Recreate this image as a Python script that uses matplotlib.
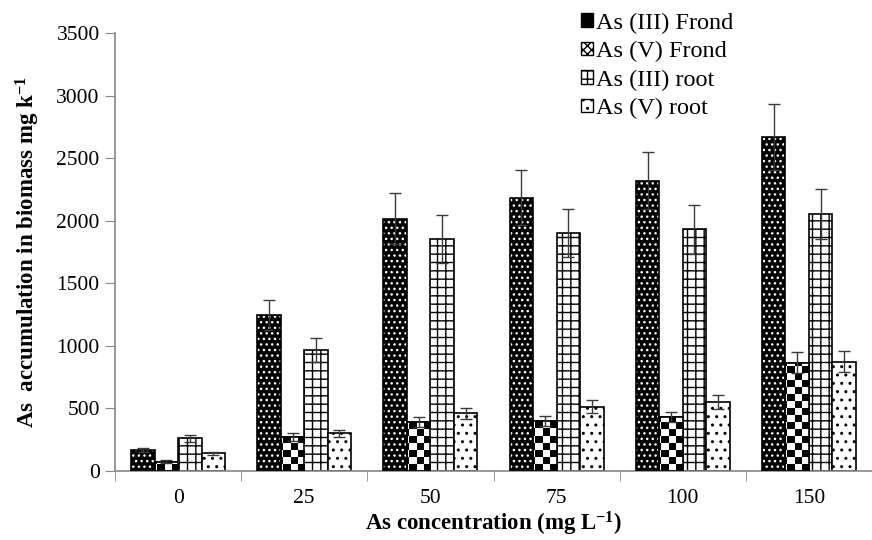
import numpy as np
import matplotlib
matplotlib.use('Agg')
import matplotlib.pyplot as plt
from matplotlib.patches import Patch

plt.rcParams['font.family'] = 'Liberation Serif'
plt.rcParams['mathtext.fontset'] = 'custom'
plt.rcParams['mathtext.rm'] = 'Liberation Serif'
plt.rcParams['mathtext.bf'] = 'Liberation Serif:bold'
plt.rcParams['hatch.linewidth'] = 1.0

concentrations = ['0', '25', '50', '75', '100', '150']
series = ['As (III) Frond', 'As (V) Frond', 'As (III) root', 'As (V) root']

as3_frond = [170, 1245, 2015, 2185, 2320, 2670]
as5_frond = [75, 270, 390, 400, 430, 865]
as3_root = [260, 970, 1855, 1900, 1930, 2050]
as5_root = [140, 300, 460, 515, 550, 875]

as3_frond_err = [15, 120, 205, 220, 230, 265]
as5_frond_err = [10, 30, 40, 40, 40, 85]
as3_root_err = [25, 95, 190, 190, 195, 200]
as5_root_err = [15, 30, 45, 50, 55, 85]

values = [as3_frond, as5_frond, as3_root, as5_root]
errors = [as3_frond_err, as5_frond_err, as3_root_err, as5_root_err]

fig = plt.figure(figsize=(8.72, 5.4), dpi=100)
ax = fig.add_axes([115/872, 1-471/540, 757/872, (471-33)/540])

x = np.arange(len(concentrations))
w = 0.186
err_col = '#3a3a3a'

for i, (vals, errs) in enumerate(zip(values, errors)):
    pos = x + (i - 1.5) * w
    if i == 0:
        # black bar with white dots
        ax.bar(pos, vals, w, color='black', edgecolor='white', hatch='...', linewidth=0, zorder=2)
        ax.bar(pos, vals, w, fill=False, edgecolor='black', linewidth=1.2, zorder=3)
    elif i == 1:
        bars = ax.bar(pos, vals, w, color='white', edgecolor='black', linewidth=1.2, zorder=2)
        checker = (np.add.outer(np.arange(63), np.arange(108)) % 2).astype(float)
        for b in bars:
            im = ax.imshow(checker, extent=[0, 1, 0, 1], transform=ax.transAxes,
                           cmap='gray', aspect='auto', interpolation='nearest', zorder=2.5)
            im.set_clip_path(b)
        ax.bar(pos, vals, w, fill=False, edgecolor='black', linewidth=1.2, zorder=3)
    elif i == 2:
        ax.bar(pos, vals, w, color='white', edgecolor='black', hatch='++', linewidth=1.2, zorder=2)
    else:
        ax.bar(pos, vals, w, color='white', edgecolor='black', hatch='..', linewidth=1.2, zorder=2)
    ax.errorbar(pos, vals, yerr=errs, fmt='none', ecolor=err_col, elinewidth=1.0,
                capsize=4.5, capthick=1.0, zorder=4)

ax.set_xlim(-0.5, 5.47)
ax.set_ylim(0, 3500)
ax.set_yticks(np.arange(0, 3501, 500))
ax.set_xticks(x)
ax.set_xticklabels(concentrations)
ax.set_xticks(np.arange(-0.5, 6, 1), minor=True)
ax.tick_params(axis='x', which='major', length=0, labelsize=15.5, pad=13)
ax.tick_params(axis='x', which='minor', length=7, color='#888888', direction='out')
ax.tick_params(axis='y', length=7, color='#888888', labelsize=15.5, direction='out', pad=4)

for s in ['top', 'right']:
    ax.spines[s].set_visible(False)
for s in ['left', 'bottom']:
    ax.spines[s].set_color('#888888')
    ax.spines[s].set_linewidth(1.2)

ax.set_xlabel(r'As concentration (mg L$\mathbf{^{-1}}$)', fontsize=16.5, fontweight='bold', labelpad=1)
ax.set_ylabel(r'As  accumulation in biomass mg k$\mathbf{^{-1}}$', fontsize=16.5, fontweight='bold', labelpad=10)

handles = [
    Patch(facecolor='black', edgecolor='black', label=series[0]),
    Patch(facecolor='white', edgecolor='black', hatch='xxxx', label=series[1]),
    Patch(facecolor='white', edgecolor='black', hatch='++', label=series[2]),
    Patch(facecolor='white', edgecolor='black', hatch='..', label=series[3]),
]
fig.legend(handles=handles, loc='upper left', bbox_to_anchor=(566/872, 1+2/540),
           frameon=False, fontsize=17.5, handlelength=0.5, handleheight=0.5,
           handletextpad=0.15, labelspacing=0.3, borderpad=0.1)

fig.savefig('out.png', dpi=100)
